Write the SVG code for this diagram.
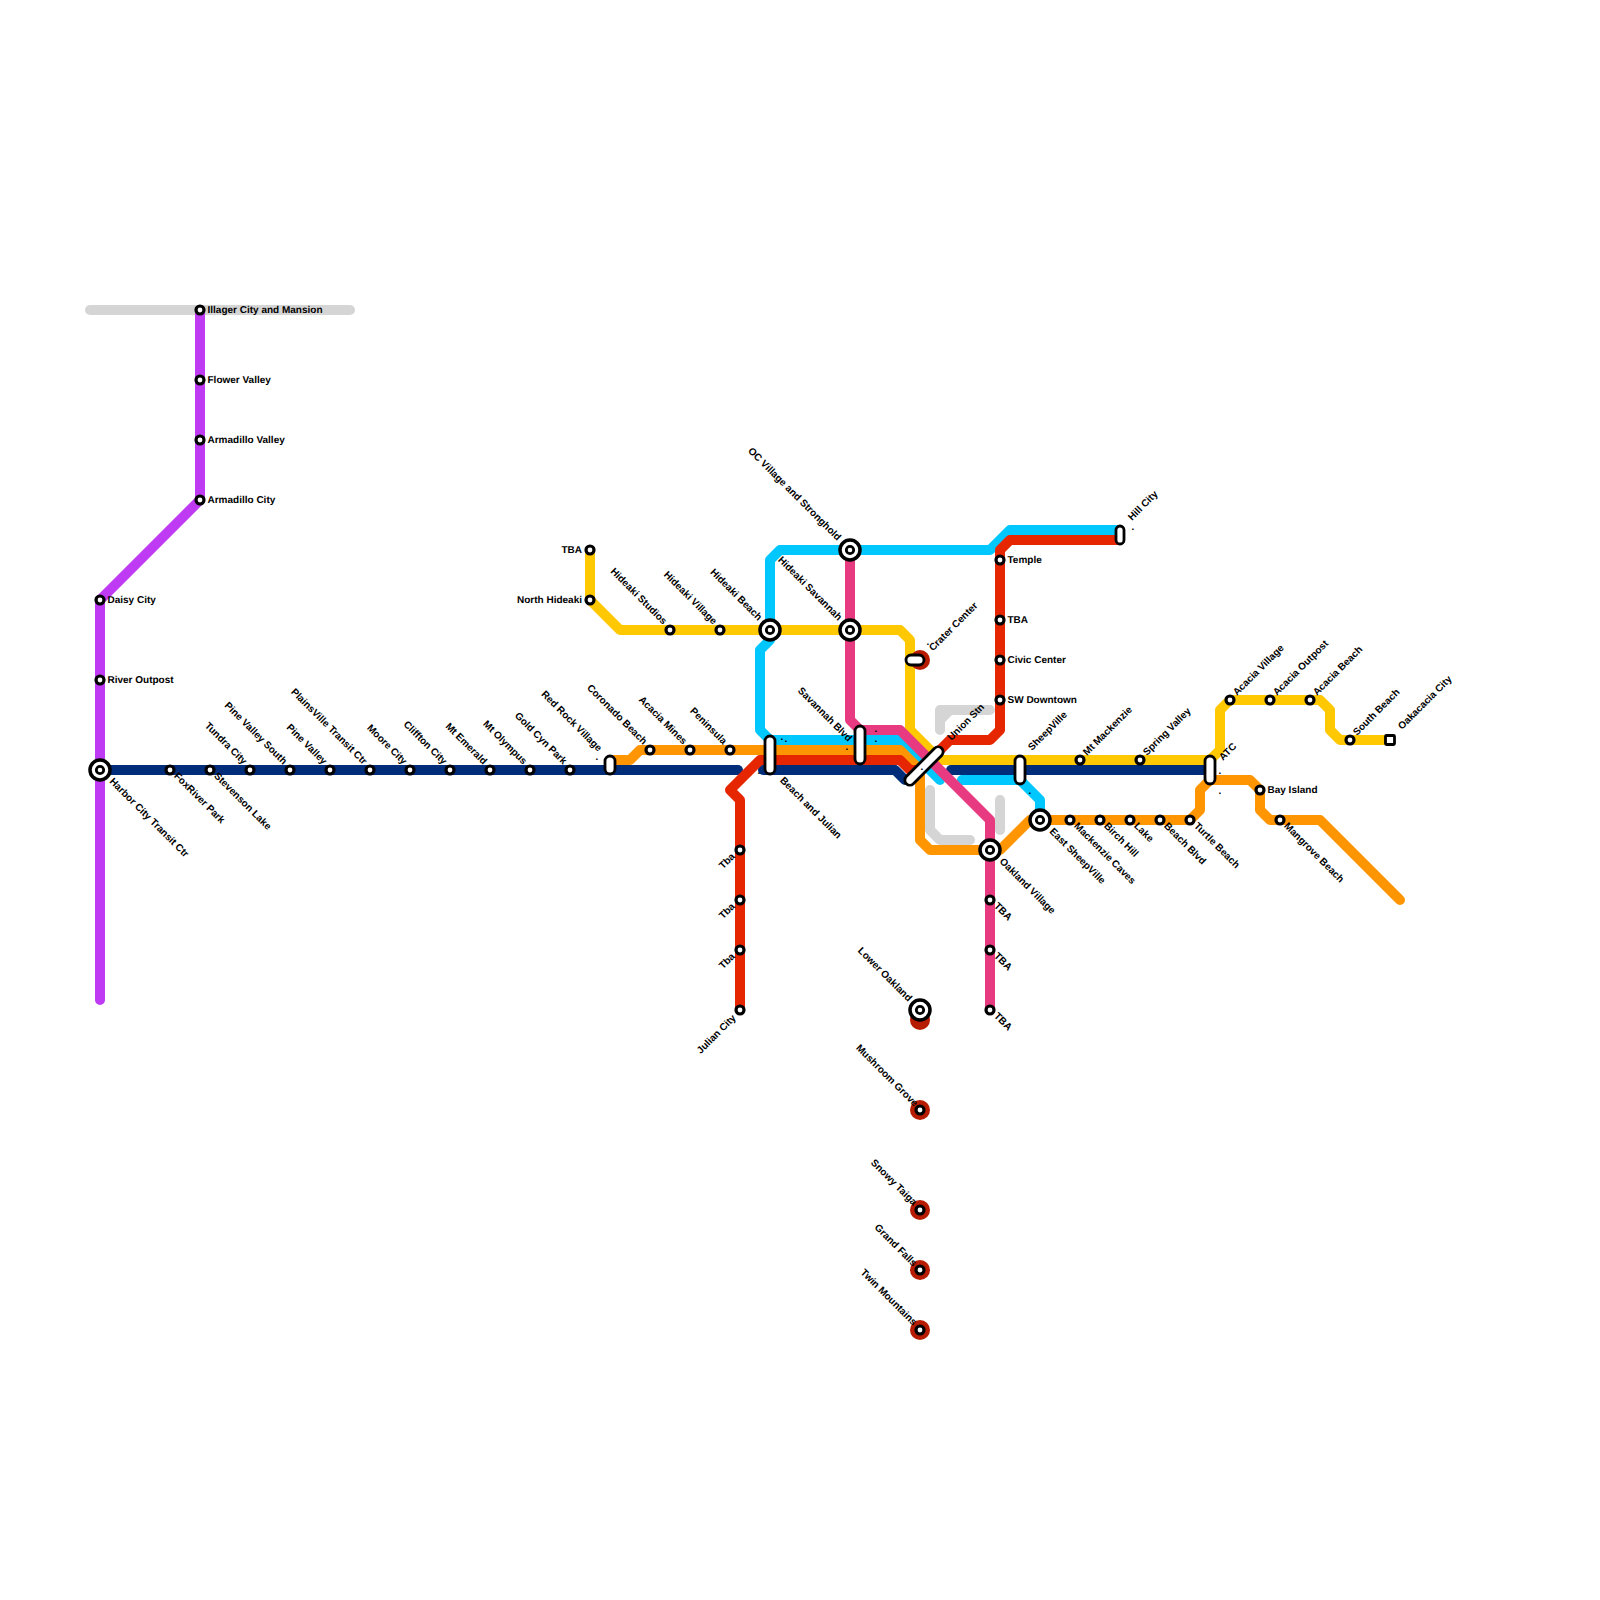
<svg xmlns="http://www.w3.org/2000/svg" width="1600" height="1600" viewBox="0 0 1600 1600">
<style>
.l{fill:none;stroke-width:10;stroke-linecap:round;stroke-linejoin:round}
.grey{stroke:#d5d5d5}.pur{stroke:#bf3bf3}.nav{stroke:#002d7a}.red{stroke:#e62600}.org{stroke:#ff9500}.yel{stroke:#ffc800}.cya{stroke:#00c8ff}.pnk{stroke:#e83a80}
.s{fill:#fff;stroke:#000;stroke-width:3.2}
.i{fill:#fff;stroke:#000;stroke-width:3.5}
.j{fill:#fff;stroke:#000;stroke-width:2.8}
.p{fill:#fff;stroke:#000;stroke-width:2.8}
.d{fill:#b81c00}
text{font-family:"Liberation Sans",Arial,sans-serif;font-size:10px;font-weight:700;fill:#000;text-rendering:geometricPrecision}
.e{text-anchor:end}
</style>
<defs>
<g id="st"><circle class="s" r="4"/></g>
<g id="ix"><circle class="i" r="10"/><circle class="j" r="3.7"/></g>
</defs>
<g id="connectors">
<path class="l grey" d="M90 310H350"/>
<path class="l grey" d="M990 710H940V730M950 710L940 720"/>
<path class="l grey" d="M930 790V830L940 840H970"/>
<path class="l grey" d="M1000 800V830"/>
<path class="l pur" d="M100 1000V600L200 500V310"/>
<path class="l yel" d="M590 550V600L620 630H900L910 640V730L940 760H1210L1220 750V710L1230 700H1320L1330 710V730L1340 740H1390"/>
<path class="l cya" d="M1120 530H1010L990 550H780L770 560V640L760 650V730L770 740H900L940 780"/>
<path class="l cya" d="M962 780H1020L1040 800V820"/>
<path class="l nav" d="M100 770H738"/>
<path class="l nav" d="M763 770H895L905 780"/>
<path class="l nav" d="M951 770H1210"/>
<path class="l org" d="M610 760H630L640 750H900L920 770V840L930 850H1000L1030 820H1190L1200 810V790L1210 780H1250L1260 790V810L1270 820H1320L1400 900"/>
<path class="l red" d="M1120 540H1010L1000 550V730L990 740H950L920 770H910L900 760H760L730 790L740 800V1010"/>
<path class="l pnk" d="M850 550V720L860 730H900L990 820V1010"/>
</g>
<g id="n-illager"><use href="#st" x="200" y="310"/><text x="207.5" y="313">Illager City and Mansion</text></g>
<g id="n-flower"><use href="#st" x="200" y="380"/><text x="207.5" y="383">Flower Valley</text></g>
<g id="n-armv"><use href="#st" x="200" y="440"/><text x="207.5" y="443">Armadillo Valley</text></g>
<g id="n-armc"><use href="#st" x="200" y="500"/><text x="207.5" y="503">Armadillo City</text></g>
<g id="n-daisy"><use href="#st" x="100" y="600"/><text x="107.5" y="603">Daisy City</text></g>
<g id="n-river"><use href="#st" x="100" y="680"/><text x="107.5" y="683">River Outpost</text></g>
<g id="n-harbor"><use href="#ix" x="100" y="770"/><text transform="translate(109 782) rotate(45)">Harbor City Transit Ctr</text></g>
<g id="n-fox"><use href="#st" x="170" y="770"/><text transform="translate(173.5 776.5) rotate(45)">FoxRiver Park</text></g>
<g id="n-stev"><use href="#st" x="210" y="770"/><text transform="translate(213.5 776.5) rotate(45)">Stevenson Lake</text></g>
<g id="n-tundra"><use href="#st" x="250" y="770"/><text class="e" transform="translate(243 765) rotate(45)">Tundra City</text></g>
<g id="n-pvs"><use href="#st" x="290" y="770"/><text class="e" transform="translate(283 765) rotate(45)">Pine Valley South</text></g>
<g id="n-pv"><use href="#st" x="330" y="770"/><text class="e" transform="translate(323 765) rotate(45)">Pine Valley</text></g>
<g id="n-plains"><use href="#st" x="370" y="770"/><text class="e" transform="translate(363 765) rotate(45)">PlainsVille Transit Ctr</text></g>
<g id="n-moore"><use href="#st" x="410" y="770"/><text class="e" transform="translate(403 765) rotate(45)">Moore City</text></g>
<g id="n-cliff"><use href="#st" x="450" y="770"/><text class="e" transform="translate(443 765) rotate(45)">Cliffton City</text></g>
<g id="n-emerald"><use href="#st" x="490" y="770"/><text class="e" transform="translate(483 765) rotate(45)">Mt Emerald</text></g>
<g id="n-olympus"><use href="#st" x="530" y="770"/><text class="e" transform="translate(523 765) rotate(45)">Mt Olympus</text></g>
<g id="n-gold"><use href="#st" x="570" y="770"/><text class="e" transform="translate(563 765) rotate(45)">Gold Cyn Park</text></g>
<g id="n-redrock"><rect class="p" x="605" y="756" width="10" height="18" rx="5"/><text class="e" transform="translate(598 752) rotate(45)">Red Rock Village</text><text x="595.6" y="760">.</text></g>
<g id="n-coronado"><use href="#st" x="650" y="750"/><text class="e" transform="translate(643 745) rotate(45)">Coronado Beach</text></g>
<g id="n-acmines"><use href="#st" x="690" y="750"/><text class="e" transform="translate(683 745) rotate(45)">Acacia Mines</text></g>
<g id="n-penin"><use href="#st" x="730" y="750"/><text class="e" transform="translate(723 745) rotate(45)">Peninsula</text></g>
<g id="n-beachj"><rect class="p" x="765" y="736" width="10" height="38" rx="5"/><text transform="translate(779.5 781) rotate(45)">Beach and Julian</text><text x="780.6" y="740">.</text><text x="784.6" y="742">.</text><text x="757.6" y="774">.</text></g>
<g id="n-tba1"><use href="#st" x="590" y="550"/><text class="e" x="582" y="553">TBA</text></g>
<g id="n-nh"><use href="#st" x="590" y="600"/><text class="e" x="582" y="603">North Hideaki</text></g>
<g id="n-hs"><use href="#st" x="670" y="630"/><text class="e" transform="translate(663 625) rotate(45)">Hideaki Studios</text></g>
<g id="n-hv"><use href="#st" x="720" y="630"/><text class="e" transform="translate(713 625) rotate(45)">Hideaki Village</text></g>
<g id="n-hb"><use href="#ix" x="770" y="630"/><text class="e" transform="translate(758 621) rotate(45)">Hideaki Beach</text></g>
<g id="n-hsav"><use href="#ix" x="850" y="630"/><text class="e" transform="translate(838 621) rotate(45)">Hideaki Savannah</text></g>
<g id="n-oc"><use href="#ix" x="850" y="550"/><text class="e" transform="translate(837 541) rotate(45)">OC Village and Stronghold</text></g>
<g id="n-savb"><rect class="p" x="855" y="726" width="10" height="38" rx="5"/><text class="e" transform="translate(848 742) rotate(45)">Savannah Blvd</text><text x="874.6" y="732">.</text><text x="874.6" y="742">.</text><text x="845.6" y="750">.</text></g>
<g id="n-crater"><circle class="d" cx="920" cy="660" r="10"/><rect class="p" x="906" y="655" width="18" height="10" rx="5"/><text transform="translate(933 651.5) rotate(-45)">Crater Center</text><text x="926.6" y="645">.</text></g>
<g id="n-union"><rect class="p" x="-25" y="-5" width="50" height="10" rx="5" transform="translate(924 766) rotate(-45)"/><text transform="translate(951.5 741) rotate(-45)">Union Stn</text><text x="920.6" y="770">.</text></g>
<g id="n-temple"><use href="#st" x="1000" y="560"/><text x="1007.5" y="563">Temple</text></g>
<g id="n-tba2"><use href="#st" x="1000" y="620"/><text x="1007.5" y="623">TBA</text></g>
<g id="n-civic"><use href="#st" x="1000" y="660"/><text x="1007.5" y="663">Civic Center</text></g>
<g id="n-swd"><use href="#st" x="1000" y="700"/><text x="1007.5" y="703">SW Downtown</text></g>
<g id="n-oakv"><use href="#ix" x="990" y="850"/><text transform="translate(999 862) rotate(45)">Oakland Village</text></g>
<g id="n-tba3"><use href="#st" x="990" y="900"/><text transform="translate(993.5 906.5) rotate(45)">TBA</text></g>
<g id="n-tba4"><use href="#st" x="990" y="950"/><text transform="translate(993.5 956.5) rotate(45)">TBA</text></g>
<g id="n-tba5"><use href="#st" x="990" y="1010"/><text transform="translate(993.5 1016.5) rotate(45)">TBA</text></g>
<g id="n-sheep"><rect class="p" x="1015" y="756" width="10" height="28" rx="5"/><text transform="translate(1032 751) rotate(-45)">SheepVille</text><text x="1028.6" y="794">.</text></g>
<g id="n-esheep"><use href="#ix" x="1040" y="820"/><text transform="translate(1049 832) rotate(45)">East SheepVille</text></g>
<g id="n-mc"><use href="#st" x="1070" y="820"/><text transform="translate(1073.5 826.5) rotate(45)">Mackenzie Caves</text></g>
<g id="n-birch"><use href="#st" x="1100" y="820"/><text transform="translate(1103.5 826.5) rotate(45)">Birch Hill</text></g>
<g id="n-lake"><use href="#st" x="1130" y="820"/><text transform="translate(1133.5 826.5) rotate(45)">Lake</text></g>
<g id="n-bb"><use href="#st" x="1160" y="820"/><text transform="translate(1163.5 826.5) rotate(45)">Beach Blvd</text></g>
<g id="n-turtle"><use href="#st" x="1190" y="820"/><text transform="translate(1193.5 826.5) rotate(45)">Turtle Beach</text></g>
<g id="n-mtm"><use href="#st" x="1080" y="760"/><text transform="translate(1087 756) rotate(-45)">Mt Mackenzie</text></g>
<g id="n-spring"><use href="#st" x="1140" y="760"/><text transform="translate(1147 756) rotate(-45)">Spring Valley</text></g>
<g id="n-atc"><rect class="p" x="1205" y="756" width="10" height="28" rx="5"/><text transform="translate(1223 761) rotate(-45)">ATC</text><text x="1218.6" y="774">.</text><text x="1218.6" y="794">.</text></g>
<g id="n-hill"><rect class="p" x="1116" y="526" width="8" height="18" rx="4"/><text transform="translate(1132 521) rotate(-45)">Hill City</text><text x="1131.6" y="530">.</text></g>
<g id="n-av"><use href="#st" x="1230" y="700"/><text transform="translate(1237 696) rotate(-45)">Acacia Village</text></g>
<g id="n-ao"><use href="#st" x="1270" y="700"/><text transform="translate(1277 696) rotate(-45)">Acacia Outpost</text></g>
<g id="n-ab"><use href="#st" x="1310" y="700"/><text transform="translate(1317 696) rotate(-45)">Acacia Beach</text></g>
<g id="n-sb"><use href="#st" x="1350" y="740"/><text transform="translate(1357 736) rotate(-45)">South Beach</text></g>
<g id="n-oak"><rect class="p" x="1385.5" y="735.5" width="9" height="9" rx="1"/><text transform="translate(1402 730) rotate(-45)">Oakacacia City</text></g>
<g id="n-bay"><use href="#st" x="1260" y="790"/><text x="1267.5" y="793">Bay Island</text></g>
<g id="n-mang"><use href="#st" x="1280" y="820"/><text transform="translate(1283.5 826.5) rotate(45)">Mangrove Beach</text></g>
<g id="n-tb1"><use href="#st" x="740" y="850"/><text class="e" transform="translate(735.5 857) rotate(-45)">Tba</text></g>
<g id="n-tb2"><use href="#st" x="740" y="900"/><text class="e" transform="translate(735.5 907) rotate(-45)">Tba</text></g>
<g id="n-tb3"><use href="#st" x="740" y="950"/><text class="e" transform="translate(735.5 957) rotate(-45)">Tba</text></g>
<g id="n-julian"><use href="#st" x="740" y="1010"/><text class="e" transform="translate(736.5 1018.5) rotate(-45)">Julian City</text></g>
<g id="n-lower"><circle class="d" cx="920" cy="1020" r="10"/><use href="#ix" x="920" y="1010"/><text class="e" transform="translate(908 1002) rotate(45)">Lower Oakland</text></g>
<g id="n-mush"><circle class="d" cx="920" cy="1110" r="10"/><use href="#st" x="920" y="1110"/><text class="e" transform="translate(914 1107) rotate(45)">Mushroom Grove</text></g>
<g id="n-snowy"><circle class="d" cx="920" cy="1210" r="10"/><use href="#st" x="920" y="1210"/><text class="e" transform="translate(913 1206) rotate(45)">Snowy Taiga</text></g>
<g id="n-grand"><circle class="d" cx="920" cy="1270" r="10"/><use href="#st" x="920" y="1270"/><text class="e" transform="translate(913 1267) rotate(45)">Grand Falls</text></g>
<g id="n-twin"><circle class="d" cx="920" cy="1330" r="10"/><use href="#st" x="920" y="1330"/><text class="e" transform="translate(913 1326) rotate(45)">Twin Mountains</text></g>
</svg>
